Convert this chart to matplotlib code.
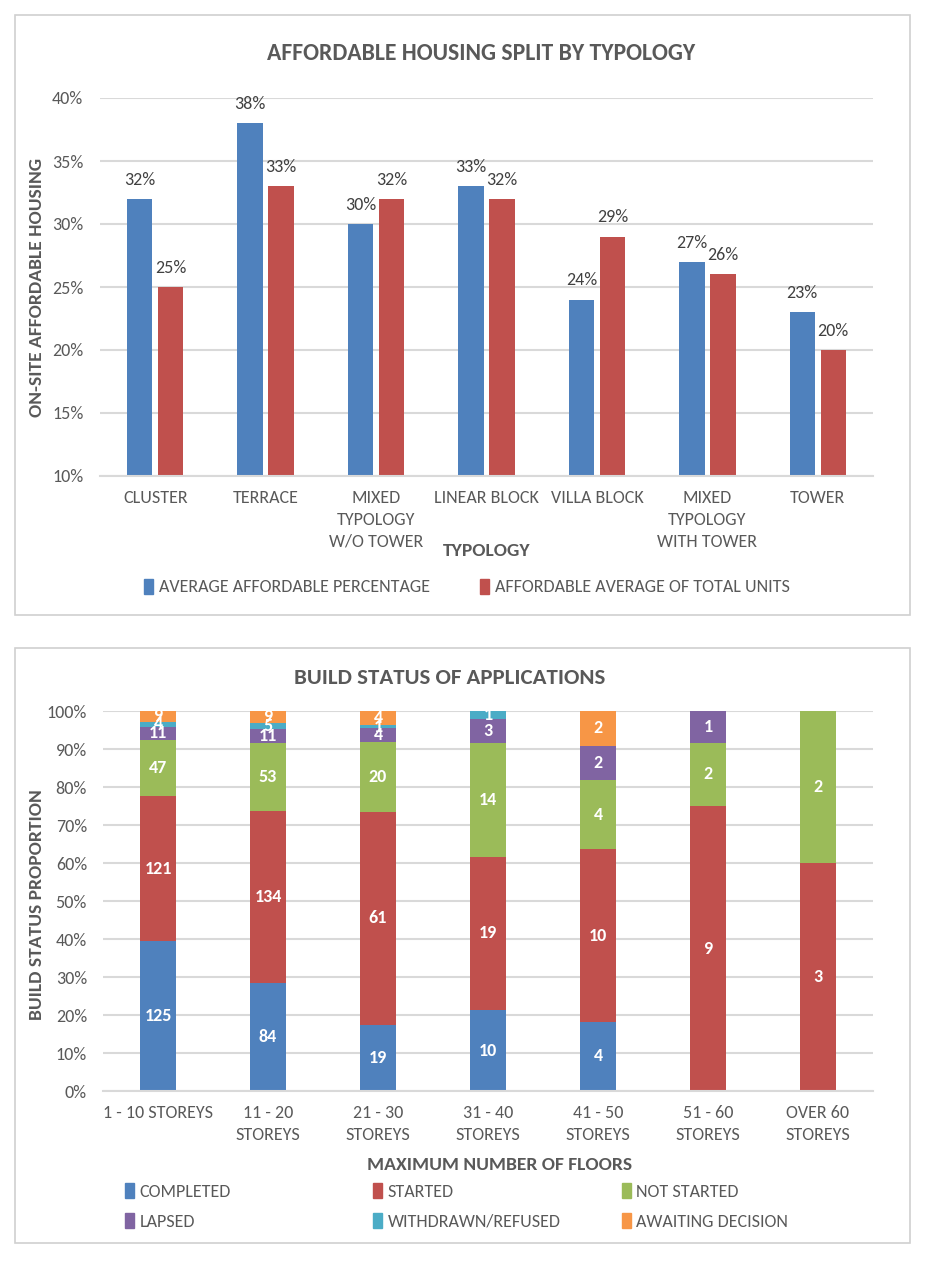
import numpy as np
import matplotlib.pyplot as plt
from matplotlib.patches import Rectangle, Patch

# ---- data: top chart
typologies = ['CLUSTER', 'TERRACE', 'MIXED\nTYPOLOGY\nW/O TOWER', 'LINEAR BLOCK',
              'VILLA BLOCK', 'MIXED\nTYPOLOGY\nWITH TOWER', 'TOWER']
avg_pct = [32, 38, 30, 33, 24, 27, 23]
avg_total = [25, 33, 32, 32, 29, 26, 20]
series_top = ['AVERAGE AFFORDABLE PERCENTAGE', 'AFFORDABLE AVERAGE OF TOTAL UNITS']

# ---- data: bottom chart (counts per status)
floors = ['1 - 10 STOREYS', '11 - 20\nSTOREYS', '21 - 30\nSTOREYS', '31 - 40\nSTOREYS',
          '41 - 50\nSTOREYS', '51 - 60\nSTOREYS', 'OVER 60\nSTOREYS']
statuses = ['COMPLETED', 'STARTED', 'NOT STARTED', 'LAPSED',
            'WITHDRAWN/REFUSED', 'AWAITING DECISION']
completed = [125, 84, 19, 10, 4, 0, 0]
started = [121, 134, 61, 19, 10, 9, 3]
not_started = [47, 53, 20, 14, 4, 2, 2]
lapsed = [11, 11, 4, 3, 2, 1, 0]
withdrawn = [4, 5, 1, 1, 0, 0, 0]
awaiting = [9, 9, 4, 0, 2, 0, 0]

blue = '#4F81BD'; red = '#C0504D'; green = '#9BBB59'
purple = '#8064A2'; cyan = '#4BACC6'; orange = '#F79646'
status_colors = [blue, red, green, purple, cyan, orange]
txt = '#595959'; grid_c = '#D9D9D9'

plt.rcParams['font.family'] = ['Carlito', 'Liberation Sans', 'DejaVu Sans']

W, H = 925, 1262
fig = plt.figure(figsize=(W / 100, H / 100), dpi=100)

def fx(px):
    return px / W

def fy(py):
    return 1 - py / H

# panel borders
for (x0, y0, x1, y1) in [(15, 15, 910, 615), (15, 648, 910, 1243)]:
    fig.patches.append(Rectangle((fx(x0), fy(y1)), fx(x1) - fx(x0), fy(y0) - fy(y1),
                                 transform=fig.transFigure, fill=False,
                                 edgecolor='#D0D0D0', lw=1.2))

def style_axes(ax, ypad):
    for s in ['top', 'right', 'left']:
        ax.spines[s].set_visible(False)
    ax.spines['bottom'].set_color(grid_c)
    ax.spines['bottom'].set_linewidth(1.5)
    ax.yaxis.grid(True, color=grid_c, lw=1.5)
    ax.set_axisbelow(True)
    ax.tick_params(length=0, labelsize=13, labelcolor=txt)
    ax.tick_params(axis='y', pad=ypad)
    ax.tick_params(axis='x', pad=10)

# ---- top chart
ax1 = fig.add_axes([fx(100), fy(476), fx(873) - fx(100), fy(98) - fy(476)])
x = np.arange(len(typologies))
bw = 0.23; off = 0.14
b1 = ax1.bar(x - off, np.array(avg_pct) / 100, bw, color=blue)
b2 = ax1.bar(x + off, np.array(avg_total) / 100, bw, color=red)
for bars, vals in [(b1, avg_pct), (b2, avg_total)]:
    for r, v in zip(bars, vals):
        ax1.annotate('%d%%' % v, (r.get_x() + r.get_width() / 2, r.get_height()),
                     xytext=(0, 8), textcoords='offset points', ha='center',
                     va='bottom', fontsize=13, color='#404040')
ax1.set_xlim(-0.5, len(typologies) - 0.5)
ax1.set_ylim(0.10, 0.40)
ax1.set_yticks(np.arange(0.10, 0.401, 0.05))
ax1.set_yticklabels(['%d%%' % round(t * 100) for t in np.arange(0.10, 0.401, 0.05)])
ax1.set_xticks(x)
ax1.set_xticklabels(typologies, linespacing=1.45, va='top')
style_axes(ax1, 12)
fig.text(fx(481), fy(53), 'AFFORDABLE HOUSING SPLIT BY TYPOLOGY', ha='center', va='center',
         fontsize=17, fontweight='bold', color=txt)
fig.text(fx(37), fy(287), 'ON-SITE AFFORDABLE HOUSING', ha='center', va='center',
         rotation=90, fontsize=14, fontweight='bold', color=txt)
fig.text(fx(487), fy(551), 'TYPOLOGY', ha='center', va='center',
         fontsize=14, fontweight='bold', color=txt)
fig.legend([Patch(color=blue), Patch(color=red)], series_top, loc='center',
           bbox_to_anchor=(fx(467), fy(587)), ncol=2, frameon=False,
           handlelength=0.5, handleheight=0.9, handletextpad=0.3,
           columnspacing=2.8, labelcolor=txt, prop={'size': 13})

# ---- bottom chart
ax2 = fig.add_axes([fx(103), fy(1091), fx(873) - fx(103), fy(711) - fy(1091)])
counts = np.array([completed, started, not_started, lapsed, withdrawn, awaiting], dtype=float)
totals = counts.sum(axis=0)
props = counts / totals
xb = np.arange(len(floors))
bottom = np.zeros(len(floors))
for k, st in enumerate(statuses):
    bars = ax2.bar(xb, props[k], 0.33, bottom=bottom, color=status_colors[k], label=st)
    for i, r in enumerate(bars):
        if counts[k, i] > 0:
            ax2.text(r.get_x() + r.get_width() / 2, bottom[i] + props[k, i] / 2,
                     '%d' % counts[k, i], ha='center', va='center', color='white',
                     fontsize=13, fontweight='bold')
    bottom += props[k]
ax2.set_xlim(-0.5, len(floors) - 0.5)
ax2.set_ylim(0, 1)
ax2.set_yticks(np.arange(0, 1.01, 0.1))
ax2.set_yticklabels(['%d%%' % round(t * 100) for t in np.arange(0, 1.01, 0.1)])
ax2.set_xticks(xb)
ax2.set_xticklabels(floors, linespacing=1.45, va='top')
style_axes(ax2, 11.5)
fig.text(fx(450), fy(678), 'BUILD STATUS OF APPLICATIONS', ha='center', va='center',
         fontsize=16.5, fontweight='bold', color=txt)
fig.text(fx(37), fy(905), 'BUILD STATUS PROPORTION', ha='center', va='center',
         rotation=90, fontsize=14, fontweight='bold', color=txt)
fig.text(fx(500), fy(1165), 'MAXIMUM NUMBER OF FLOORS', ha='center', va='center',
         fontsize=14, fontweight='bold', color=txt)
handles = [Patch(color=c) for c in status_colors]
for col, xpos in enumerate([125, 373, 622]):
    idx = [col, col + 3]
    fig.legend([handles[i] for i in idx], [statuses[i] for i in idx], loc='upper left',
               bbox_to_anchor=(fx(xpos), fy(1183)), ncol=1, frameon=False,
               handlelength=0.5, handleheight=0.9, handletextpad=0.3,
               labelspacing=0.75, borderaxespad=0, borderpad=0,
               labelcolor=txt, prop={'size': 13})

fig.savefig('out.png', dpi=100, facecolor='white')
